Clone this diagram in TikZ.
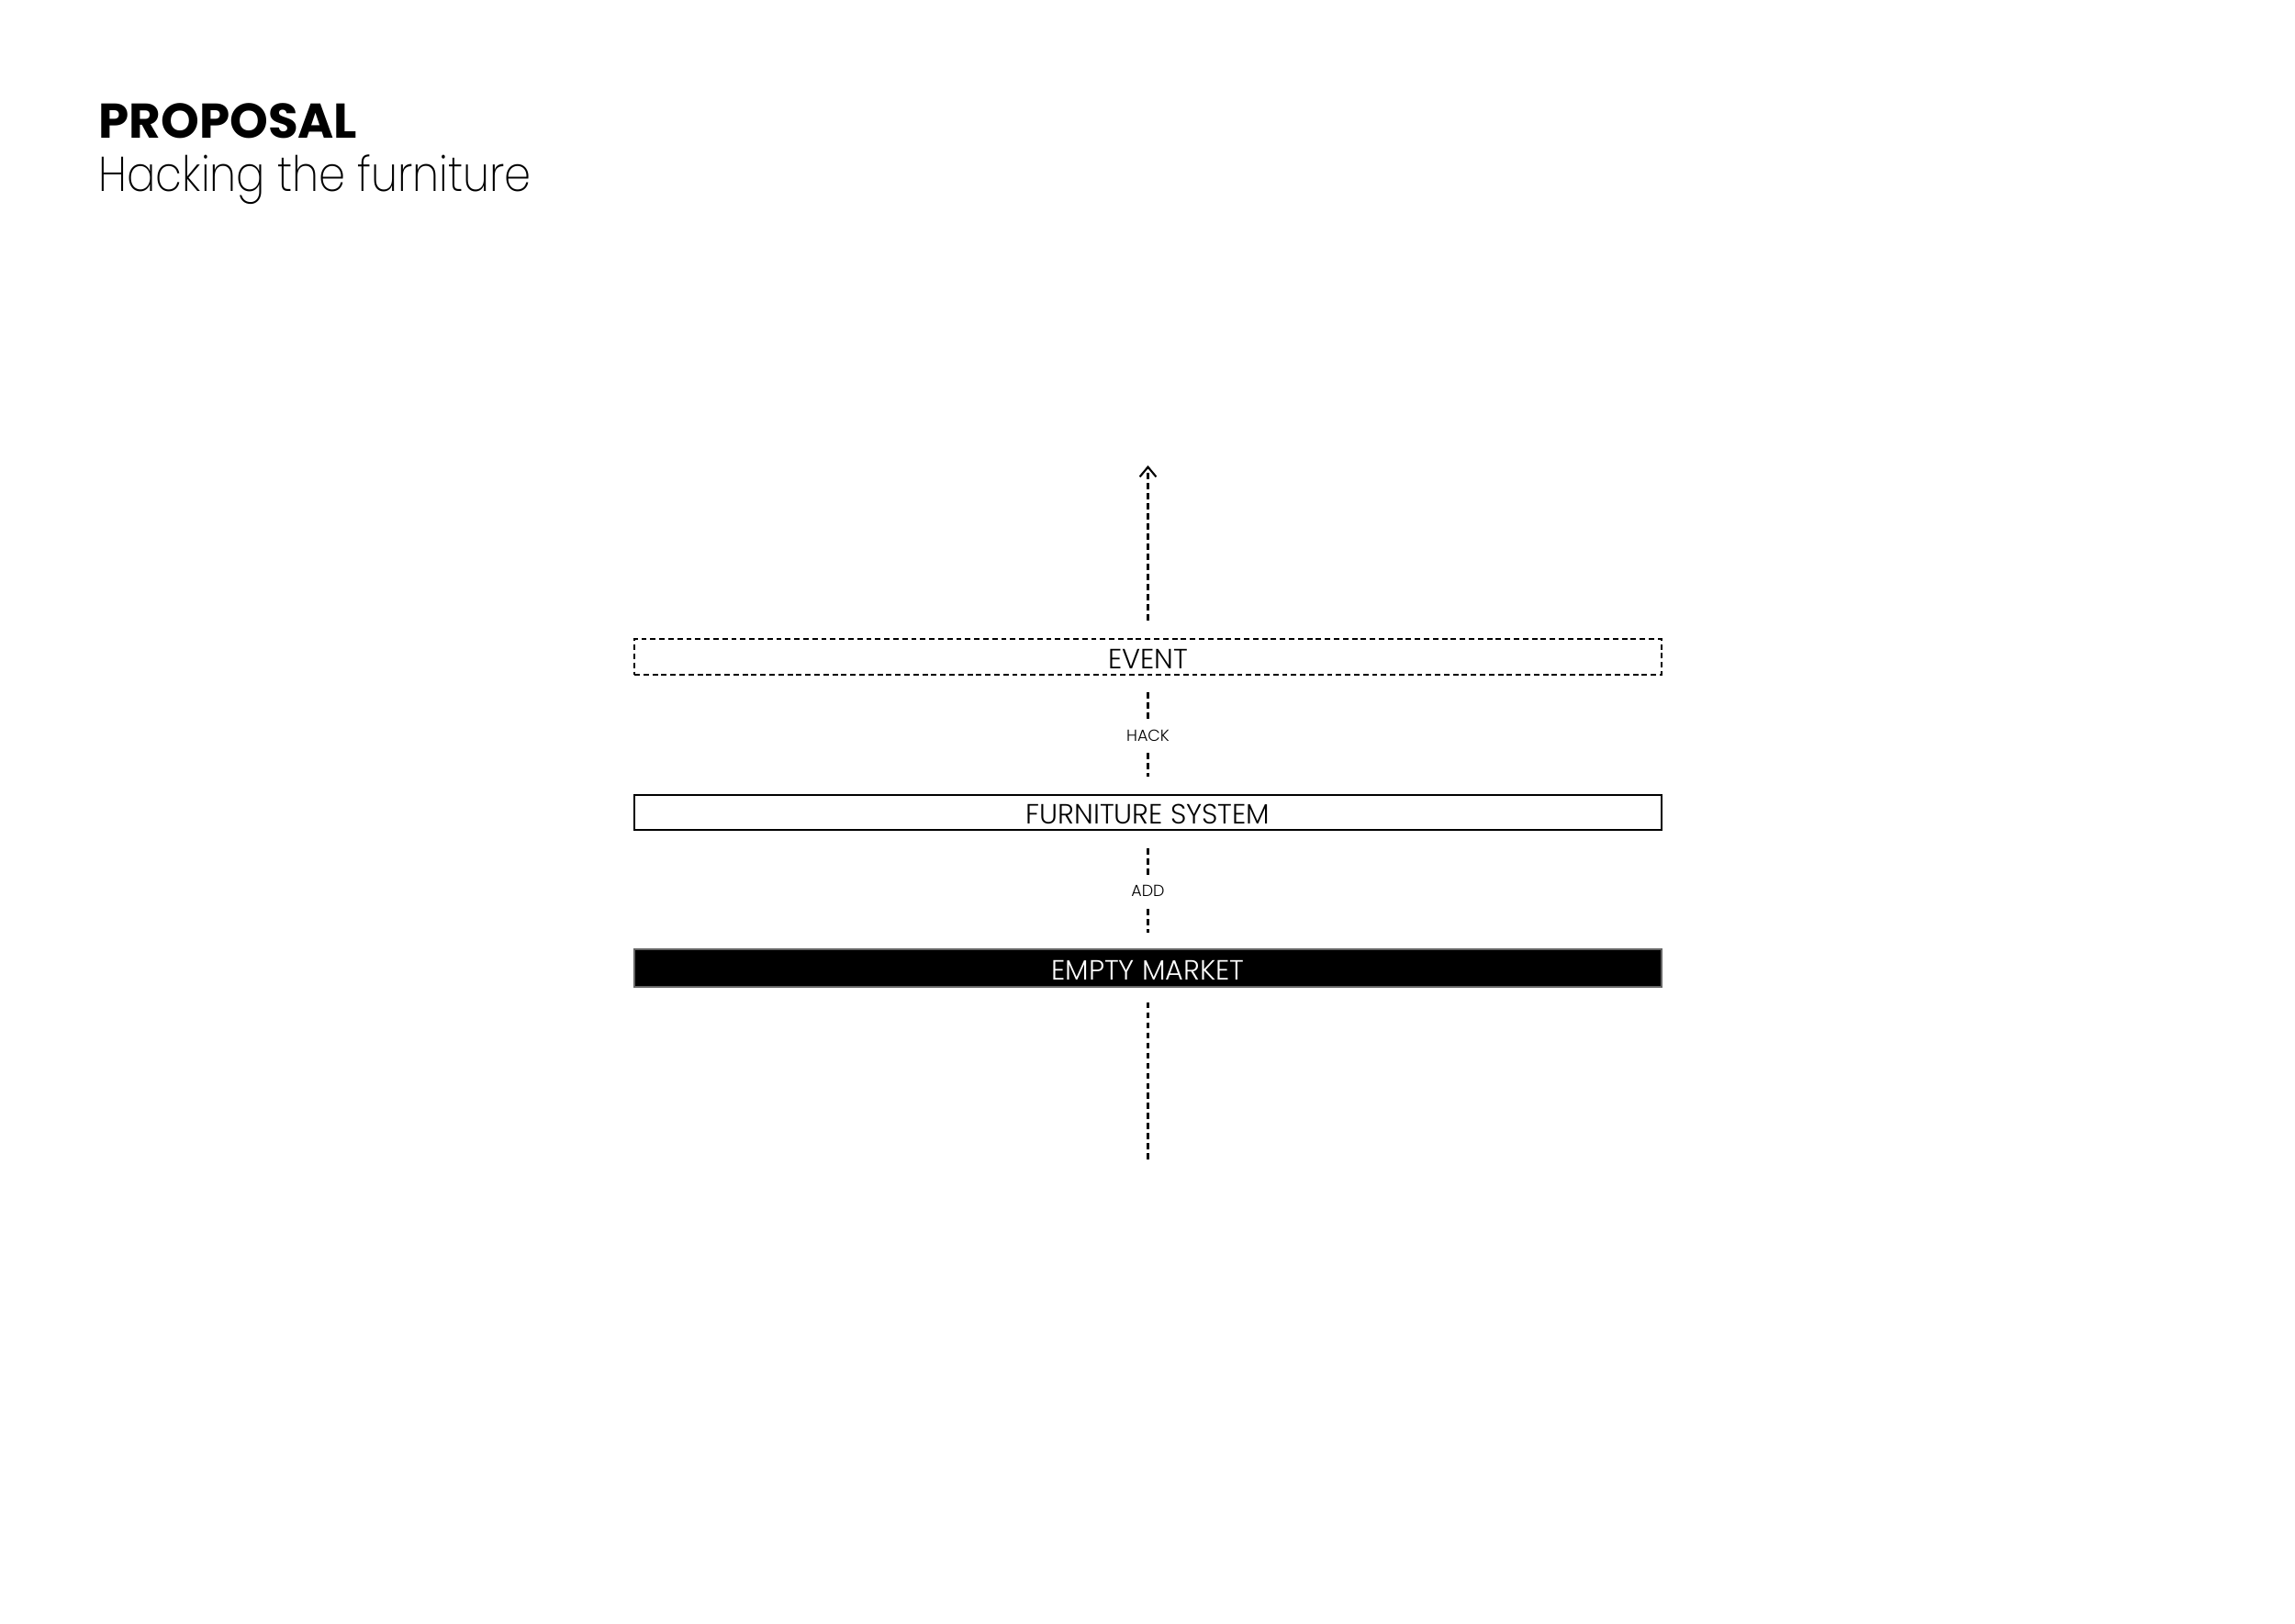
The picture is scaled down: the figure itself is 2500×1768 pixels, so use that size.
\documentclass[tikz,border=0pt]{standalone}
\usepackage{fontspec}
\setmainfont{Poppins}
\newfontfamily\lightf{Poppins Light}
\newfontfamily\sublightf{Poppins ExtraLight}[FakeStretch=0.875]
\newfontfamily\boldf{Poppins Bold}
\usetikzlibrary{arrows.meta}
\def\px{0.33678pt}
\tikzset{
  bar/.style={minimum width=1119*\px, inner sep=0pt, text depth=0pt, text height=8.7pt,
    font=\lightf\fontsize{10.2}{11}\selectfont},
  dashline/.style={line width=0.72pt, dash pattern=on 2.3pt off 1.4pt},
  lbl/.style={fill=white, inner xsep=2pt, inner ysep=3pt, text depth=0pt, text height=5pt,
    font=\lightf\fontsize{5.9}{6.5}\selectfont},
}
\begin{document}
\begin{tikzpicture}[x=0.33678pt, y=-0.33678pt]
\useasboundingbox[fill=white] (0,0) rectangle (2500,1768);
\node[anchor=base west, inner sep=0pt, font=\boldf\fontsize{17.9}{20}\selectfont] (title) at (107,150) {PROPOSAL};
\node[anchor=base west, inner sep=0pt, font=\sublightf\fontsize{17.9}{20}\selectfont] (sub) at (107,208) {Hacking the furniture};

\node[bar, minimum height=39*\px, draw, line width=0.72pt, dash pattern=on 2pt off 1.3pt] (event) at (1250.5,715.5) {EVENT};
\node[bar, minimum height=38*\px, draw, line width=0.95pt] (furn) at (1250.5,885) {FURNITURE SYSTEM};
\node[bar, minimum height=41*\px, fill=black, draw=black!60, line width=0.4pt, text=white] (market) at (1250.5,1054.5) {EMPTY MARKET};

\coordinate (top) at (1250.5,507);
\coordinate (bottom) at (1250.5,1263);

\draw[dashline, -{Straight Barb[length=3.6pt, width=6pt, line width=0.72pt]}, shorten <=19*\px] (event.north) -- (top);
\draw[dashline, shorten <=18*\px, shorten >=19*\px] (event.south) -- node[lbl] (hack) {HACK} (furn.north);
\draw[dashline, shorten <=19*\px, shorten >=17*\px] (furn.south) -- node[lbl] (add) {ADD} (market.north);
\draw[dashline, shorten <=16*\px] (market.south) -- (bottom);
\end{tikzpicture}
\end{document}
